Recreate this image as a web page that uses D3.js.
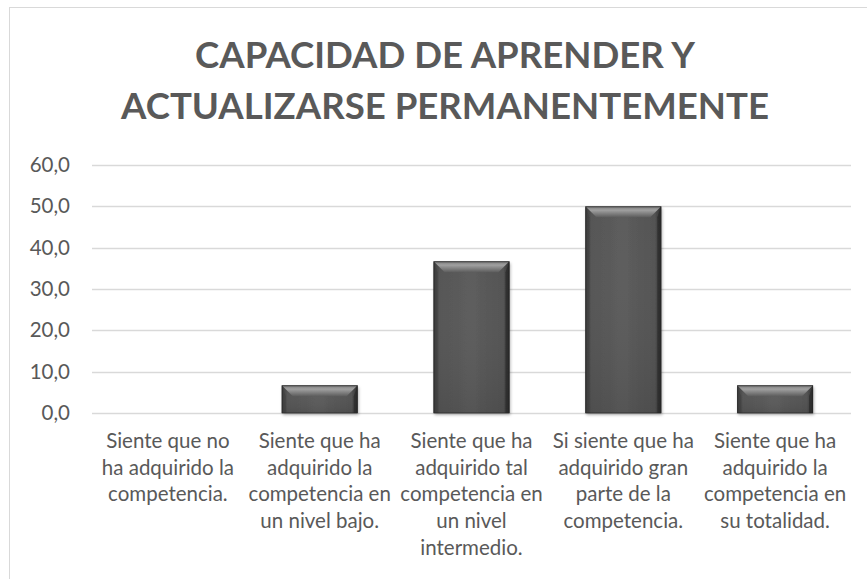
<!DOCTYPE html>
<html>
<head>
<meta charset="utf-8">
<script src="https://cdn.jsdelivr.net/npm/d3@7"></script>
<style>
  html, body { margin: 0; padding: 0; background: #ffffff; }
  svg { display: block; }
  text { font-family: Lato, "Open Sans", sans-serif; fill: #595959; }
</style>
</head>
<body>
<svg id="chart" width="867" height="579"></svg>
<script>
// ---- data ----
const titleLines = ["CAPACIDAD DE APRENDER Y", "ACTUALIZARSE PERMANENTEMENTE"];
const categories = [
  "Siente que no\nha adquirido la\ncompetencia.",
  "Siente que ha\nadquirido la\ncompetencia en\nun nivel bajo.",
  "Siente que ha\nadquirido tal\ncompetencia en\nun nivel\nintermedio.",
  "Si siente que ha\nadquirido gran\nparte de la\ncompetencia.",
  "Siente que ha\nadquirido la\ncompetencia en\nsu totalidad."
];
const values = [0.0, 6.7, 36.7, 50.0, 6.7];
const yTicks = [0, 10, 20, 30, 40, 50, 60];

// ---- layout ----
const plot = { left: 92, right: 851, top: 165, bottom: 413 };

const svg = d3.select("#chart");

// defs: gradients + shadow
const defs = svg.append("defs");
const body = defs.append("linearGradient").attr("id", "barBody")
  .attr("x1", "0").attr("y1", "0").attr("x2", "1").attr("y2", "0");
body.append("stop").attr("offset", "0").attr("stop-color", "#3a3a3a");
body.append("stop").attr("offset", "0.08").attr("stop-color", "#555555");
body.append("stop").attr("offset", "0.5").attr("stop-color", "#5c5c5c");
body.append("stop").attr("offset", "0.92").attr("stop-color", "#525252");
body.append("stop").attr("offset", "1").attr("stop-color", "#2e2e2e");

const topG = defs.append("linearGradient").attr("id", "barTop")
  .attr("x1", "0").attr("y1", "0").attr("x2", "0").attr("y2", "1");
topG.append("stop").attr("offset", "0").attr("stop-color", "#7a7a7a");
topG.append("stop").attr("offset", "0.35").attr("stop-color", "#a0a0a0");
topG.append("stop").attr("offset", "1").attr("stop-color", "#5c5c5c");

const vG = defs.append("linearGradient").attr("id", "barV")
  .attr("x1", "0").attr("y1", "0").attr("x2", "0").attr("y2", "1");
vG.append("stop").attr("offset", "0").attr("stop-color", "#ffffff").attr("stop-opacity", 0.0);
vG.append("stop").attr("offset", "1").attr("stop-color", "#000000").attr("stop-opacity", 0.08);

const shadow = defs.append("filter").attr("id", "shadow")
  .attr("x", "-20%").attr("y", "-20%").attr("width", "140%").attr("height", "140%");
shadow.append("feDropShadow").attr("dx", 1).attr("dy", 2).attr("stdDeviation", 1.5)
  .attr("flood-color", "#000").attr("flood-opacity", 0.3);

// chart area border (top + left visible)
svg.append("rect")
  .attr("x", 9.5).attr("y", 7.5).attr("width", 900).attr("height", 620)
  .attr("fill", "#ffffff").attr("stroke", "#d9d9d9").attr("stroke-width", 1);

// title (fit line 2 to the reference width)
const title = svg.append("text")
  .attr("text-anchor", "middle")
  .style("font-weight", "bold")
  .style("font-size", "40px");
const tspans = titleLines.map((t, i) =>
  title.append("tspan").attr("x", 445).attr("y", 67.5 + i * 51).text(t));
const w2 = tspans[1].node().getComputedTextLength();
if (w2 > 0) title.style("font-size", (40 * 648 / w2).toFixed(2) + "px");

// scales
const x = d3.scaleBand().domain(categories).range([plot.left, plot.right]).paddingInner(0.5).paddingOuter(0.25);
const y = d3.scaleLinear().domain([0, 60]).range([plot.bottom, plot.top]);

// gridlines
svg.append("g")
  .selectAll("line").data(yTicks).join("line")
  .attr("x1", plot.left).attr("x2", plot.right)
  .attr("y1", d => Math.round(y(d)) + 0.5).attr("y2", d => Math.round(y(d)) + 0.5)
  .attr("stroke", "#d9d9d9").attr("stroke-width", 1.3);

// y axis labels
const yAxis = d3.axisLeft(y).tickValues(yTicks).tickSize(0).tickPadding(0)
  .tickFormat(d => d3.format(".1f")(d).replace(".", ","));
const yg = svg.append("g").attr("transform", `translate(70,0)`).call(yAxis);
yg.select(".domain").remove();
yg.selectAll("text").style("font-size", "20.5px").attr("fill", "#595959")
  .style("font-family", "Lato, sans-serif");

// bars
const bw = x.bandwidth();
const bars = svg.append("g").selectAll("g.bar").data(values.map((v, i) => ({ v, c: categories[i] })))
  .join("g").attr("class", "bar")
  .filter(d => d.v > 0);

bars.each(function (d) {
  const g = d3.select(this);
  const x0 = x(d.c), x1 = x0 + bw;
  const y0 = y(d.v), y1 = y(0);
  const b = Math.min(11, (y1 - y0) / 2);
  const s = 4;
  g.append("rect").attr("x", x0).attr("y", y0).attr("width", bw).attr("height", y1 - y0)
    .attr("fill", "url(#barBody)").attr("filter", "url(#shadow)");
  g.append("rect").attr("x", x0).attr("y", y0).attr("width", bw).attr("height", y1 - y0)
    .attr("fill", "url(#barV)");
  g.append("path")
    .attr("d", `M${x0},${y0} L${x0 + s},${y0 + b} L${x0 + s},${y1} L${x0},${y1} Z`)
    .attr("fill", "#404040").attr("opacity", 0.6);
  g.append("path")
    .attr("d", `M${x1},${y0} L${x1 - s},${y0 + b} L${x1 - s},${y1} L${x1},${y1} Z`)
    .attr("fill", "#262626").attr("opacity", 0.6);
  g.append("path")
    .attr("d", `M${x0},${y0} L${x1},${y0} L${x1 - b},${y0 + b} L${x0 + b},${y0 + b} Z`)
    .attr("fill", "url(#barTop)");
  g.append("rect").attr("x", x0 + 0.5).attr("y", y0 + 0.5).attr("width", bw - 1).attr("height", y1 - y0 - 0.5)
    .attr("fill", "none").attr("stroke", "#262626").attr("stroke-width", 1).attr("opacity", 0.7);
});

// category labels
const xg = svg.append("g");
categories.forEach(c => {
  const t = xg.append("text").attr("text-anchor", "middle").style("font-size", "20.5px");
  c.split("\n").forEach((line, i) => {
    t.append("tspan").attr("x", x(c) + bw / 2).attr("y", 448 + i * 26.7).text(line);
  });
});
</script>
</body>
</html>
